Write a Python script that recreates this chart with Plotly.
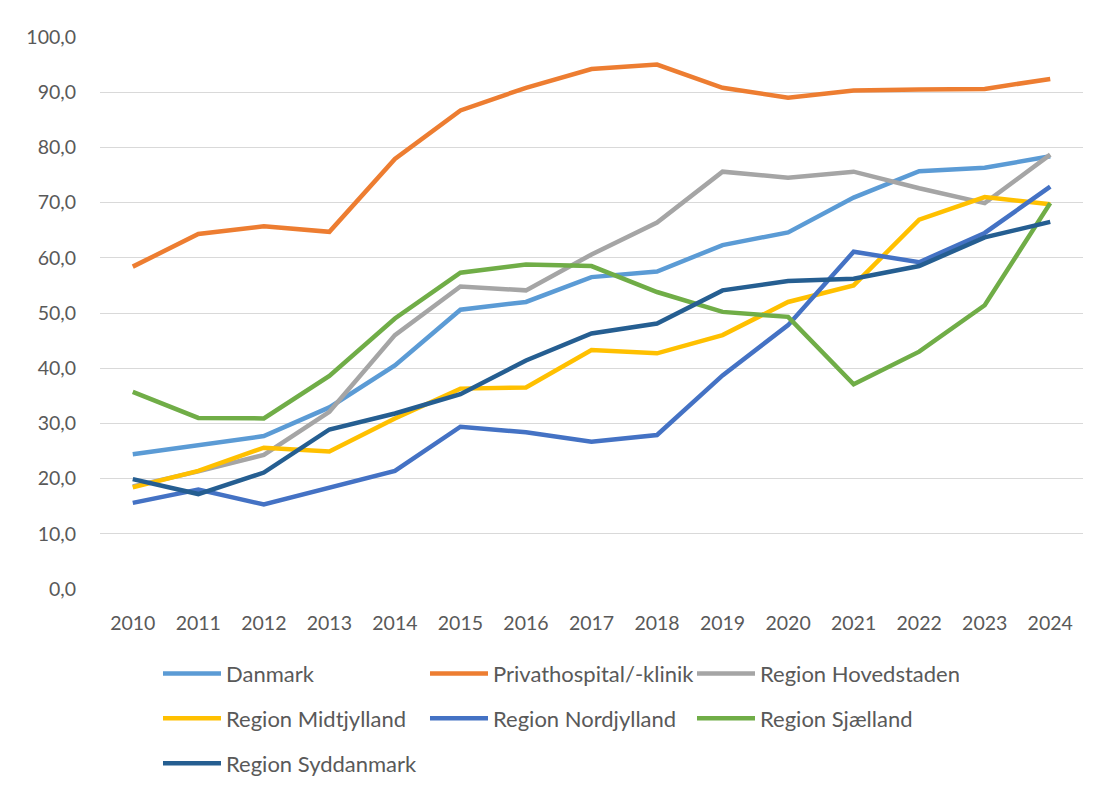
import plotly.graph_objects as go

years = [str(y) for y in range(2010, 2025)]

danmark = [24.4, 26.1, 27.7, 32.9, 40.5, 50.6, 52.0, 56.5, 57.5, 62.3, 64.6, 70.9, 75.7, 76.3, 78.4]
privat = [58.4, 64.3, 65.7, 64.7, 77.9, 86.7, 90.8, 94.2, 95.0, 90.8, 89.0, 90.3, 90.5, 90.6, 92.4]
hovedstaden = [18.6, 21.3, 24.3, 32.1, 46.0, 54.8, 54.1, 60.6, 66.4, 75.6, 74.5, 75.6, 72.6, 69.9, 78.7]
midtjylland = [18.4, 21.4, 25.6, 24.9, 30.9, 36.3, 36.5, 43.3, 42.7, 46.0, 52.0, 55.0, 66.9, 71.0, 69.7]
nordjylland = [15.6, 18.0, 15.3, 18.3, 21.4, 29.4, 28.4, 26.7, 27.9, 38.7, 47.8, 61.1, 59.2, 64.5, 72.9]
sjaelland = [35.7, 31.0, 30.9, 38.6, 49.0, 57.3, 58.8, 58.5, 53.8, 50.2, 49.3, 37.1, 43.0, 51.4, 69.9]
syddanmark = [19.9, 17.2, 21.1, 28.9, 31.8, 35.3, 41.4, 46.3, 48.1, 54.1, 55.8, 56.2, 58.5, 63.7, 66.5]

series = [
    ("Danmark", danmark, "#5B9BD5", "legend"),
    ("Privathospital/-klinik", privat, "#ED7D31", "legend"),
    ("Region Hovedstaden", hovedstaden, "#A5A5A5", "legend"),
    ("Region Midtjylland", midtjylland, "#FFC000", "legend2"),
    ("Region Nordjylland", nordjylland, "#4472C4", "legend2"),
    ("Region Sjælland", sjaelland, "#70AD47", "legend2"),
    ("Region Syddanmark", syddanmark, "#255E91", "legend3"),
]

fig = go.Figure()
for name, vals, col, lg in series:
    fig.add_trace(go.Scatter(x=years, y=vals, name=name, mode="lines", legend=lg,
                             line=dict(color=col, width=4.5)))

fam = "Lato, Open Sans, sans-serif"
tickfont = dict(family=fam, size=19.5, color="#595959")
legfont = dict(family=fam, size=22, color="#595959")

def leg(y):
    return dict(orientation="h", x=0.059, y=y, xanchor="left", yanchor="middle",
                entrywidth=194, entrywidthmode="pixels", traceorder="normal",
                font=legfont, itemwidth=58, bgcolor="rgba(0,0,0,0)")

fig.update_layout(
    width=1093, height=788,
    margin=dict(l=92, r=18, t=29, b=205),
    paper_bgcolor="white", plot_bgcolor="white",
    font=tickfont,
    separators=",.",
    showlegend=True,
    legend=leg(-0.1534),
    legend2=leg(-0.2346),
    legend3=leg(-0.3159),
    xaxis=dict(type="category", showgrid=False, showline=False, zeroline=False,
               ticks="", tickfont=tickfont, range=[-0.5, 14.5],
               ticklabelstandoff=20),
    yaxis=dict(range=[0, 100], dtick=10, tickformat=".1f", showgrid=True,
               gridcolor="#D9D9D9", gridwidth=1, zeroline=False, showline=False,
               ticks="", tickfont=tickfont, ticklabelstandoff=23),
)

fig.write_html("out.html")
